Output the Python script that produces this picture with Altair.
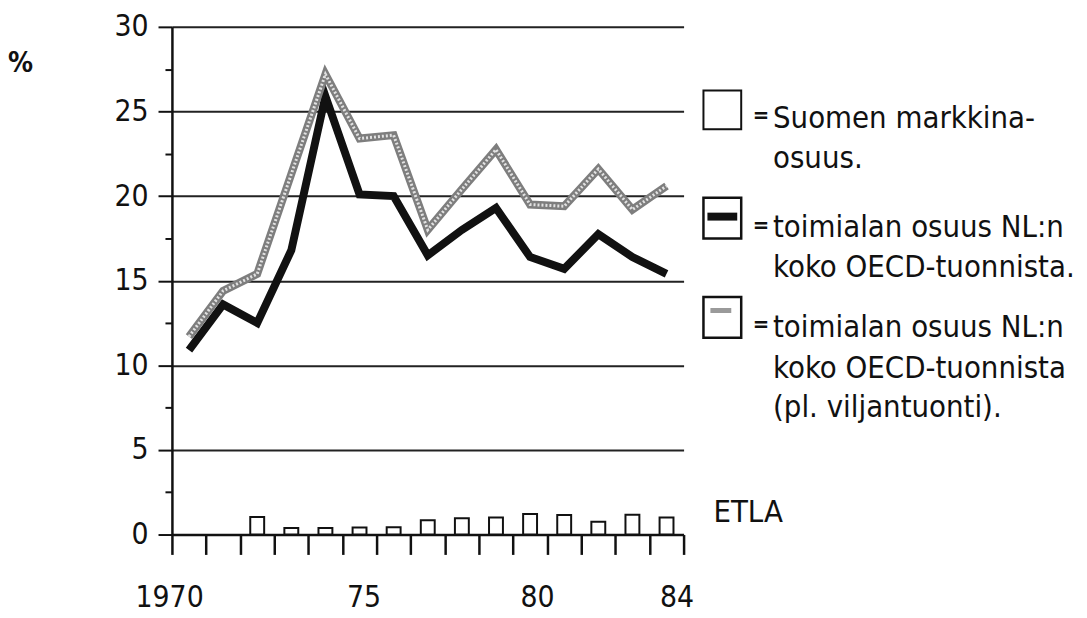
import altair as alt
import pandas as pd

# ---- data ----
years = list(range(1970, 1985))
finland_share = [0, 0, 1.04, 0.39, 0.39, 0.41, 0.43, 0.84, 0.96, 1.01, 1.21, 1.16, 0.76, 1.17, 1.01]
sector_share = [10.9, 13.6, 12.5, 16.8, 25.9, 20.1, 20.0, 16.5, 18.0, 19.3, 16.4, 15.7, 17.75, 16.4, 15.4]
sector_share_ex_grain = [11.7, 14.4, 15.4, 21.3, 27.2, 23.4, 23.6, 18.0, 20.4, 22.75, 19.5, 19.4, 21.6, 19.2, 20.6]
y_tick_values = [0, 2.5, 5, 7.5, 10, 12.5, 15, 17.5, 20, 22.5, 25, 27.5, 30]
x_label_years = [1970, 1975, 1980, 1984]

legend_1 = ["Suomen markkina-", "osuus."]
legend_2 = ["toimialan osuus NL:n", "koko OECD-tuonnista."]
legend_3 = ["toimialan osuus NL:n", "koko OECD-tuonnista", "(pl. viljantuonti)."]
source_text = "ETLA"

df = pd.DataFrame({
    "year": years,
    "finland": finland_share,
    "sector": sector_share,
    "sector_ex": sector_share_ex_grain,
})
boundaries = [y - 0.5 for y in years] + [years[-1] + 0.5]

FONT = "DejaVu Sans Condensed, DejaVu Sans, sans-serif"
INK = "#111111"

x_scale = alt.Scale(domain=[years[0] - 0.5, years[-1] + 0.5], nice=False, zero=False, padding=0)
y_scale = alt.Scale(domain=[0, 30], nice=False)

y_axis = alt.Axis(
    values=y_tick_values,
    labelExpr="datum.value % 5 == 0 ? datum.label : ''",
    tickSize={"condition": {"test": "datum.value % 5 == 0", "value": 14}, "value": 7},
    tickWidth=2, tickColor=INK,
    domainColor=INK, domainWidth=2.5,
    grid=True, gridColor="#222222", gridWidth=2,
    gridOpacity={"condition": {"test": "datum.value % 5 == 0 && datum.value > 0", "value": 1}, "value": 0},
    labelFont=FONT, labelFontSize=30, labelColor=INK, labelPadding=10,
    title="%", titleAngle=0, titleX=-153, titleY=45, titleFont=FONT,
    titleFontSize=28, titleFontWeight="bold", titleAlign="center",
    titleBaseline="alphabetic", titleColor=INK,
)

x_tick_axis = alt.Axis(
    values=boundaries, labels=False, tickSize=20, tickWidth=2.5, tickColor=INK,
    domainColor=INK, domainWidth=2.5, grid=False, title=None, orient="bottom",
)

x_label_axis = alt.Axis(
    values=x_label_years, ticks=False, tickSize=0, domain=False, grid=False,
    labelExpr="datum.value == 1970 ? '1970' : substring(toString(datum.value), 2)",
    labelFont=FONT, labelFontSize=30, labelColor=INK, labelPadding=48,
    labelOffset={"condition": [
        {"test": "datum.value == 1970", "value": -20},
        {"test": "datum.value == 1980", "value": 7},
        {"test": "datum.value == 1984", "value": 10},
    ], "value": 4},
    labelFlush=False, labelOverlap=False, title=None, orient="bottom",
)

base = alt.Chart(df)

bars = base.transform_filter("datum.finland > 0").mark_bar(
    width=14, fill="white", stroke=INK, strokeWidth=2
).encode(
    x=alt.X("year:Q", scale=x_scale, axis=x_tick_axis),
    y=alt.Y("finland:Q", scale=y_scale, axis=y_axis),
)

black_line = base.mark_line(color=INK, strokeWidth=8).encode(
    x=alt.X("year:Q", scale=x_scale, axis=x_label_axis),
    y=alt.Y("sector:Q", scale=y_scale, axis=y_axis),
)

grey_base = base.mark_line(color="#7e7e7e", strokeWidth=8).encode(
    x=alt.X("year:Q", scale=x_scale, axis=None),
    y=alt.Y("sector_ex:Q", scale=y_scale, axis=y_axis),
)
grey_over = base.mark_line(color="#e2e2e2", strokeWidth=3, strokeDash=[2, 2]).encode(
    x=alt.X("year:Q", scale=x_scale, axis=None),
    y=alt.Y("sector_ex:Q", scale=y_scale, axis=y_axis),
)

one = pd.DataFrame({"k": [0]})


def text_at(s, x, y, size=31, align="left", baseline="alphabetic", weight="normal"):
    return alt.Chart(one).mark_text(
        text=s, font=FONT, fontSize=size, align=align, baseline=baseline,
        fontWeight=weight, color=INK,
    ).encode(x=alt.value(x), y=alt.value(y))


def box_at(x, x2, y, y2, fill="white", stroke=INK, sw=2):
    return alt.Chart(one).mark_rect(fill=fill, stroke=stroke, strokeWidth=sw).encode(
        x=alt.value(x), x2=alt.value(x2), y=alt.value(y), y2=alt.value(y2)
    )


legend_layers = [
    # item 1
    box_at(535, 573, 64, 103),
    text_at("=", 593, 89, size=22, align="center", baseline="middle", weight="bold"),
    text_at(legend_1[0], 605, 102),
    text_at(legend_1[1], 605, 142),
    # item 2
    box_at(535, 573, 172, 213, sw=2.5),
    box_at(539, 569, 187, 195, fill=INK, stroke=INK, sw=0),
    text_at("=", 593, 199, size=22, align="center", baseline="middle", weight="bold"),
    text_at(legend_2[0], 605, 212),
    text_at(legend_2[1], 605, 252),
    # item 3
    box_at(535, 573, 272, 313, sw=2.5),
    box_at(542, 563, 283, 288, fill="#9a9a9a", stroke="#9a9a9a", sw=0),
    text_at("=", 593, 299, size=22, align="center", baseline="middle", weight="bold"),
    text_at(legend_3[0], 605, 312),
    text_at(legend_3[1], 605, 353),
    text_at(legend_3[2], 605, 393),
    # source
    text_at(source_text, 545, 498, size=31),
]

chart = alt.layer(bars, black_line, grey_base, grey_over, *legend_layers).resolve_axis(
    x="independent"
).properties(
    width=515,
    height=511,
    padding={"left": 165, "top": 17, "right": 398, "bottom": 78},
    autosize=alt.AutoSizeParams(type="none"),
).configure_view(stroke=None)

chart.save("out.html", embed_options={"renderer": "svg", "actions": False})
